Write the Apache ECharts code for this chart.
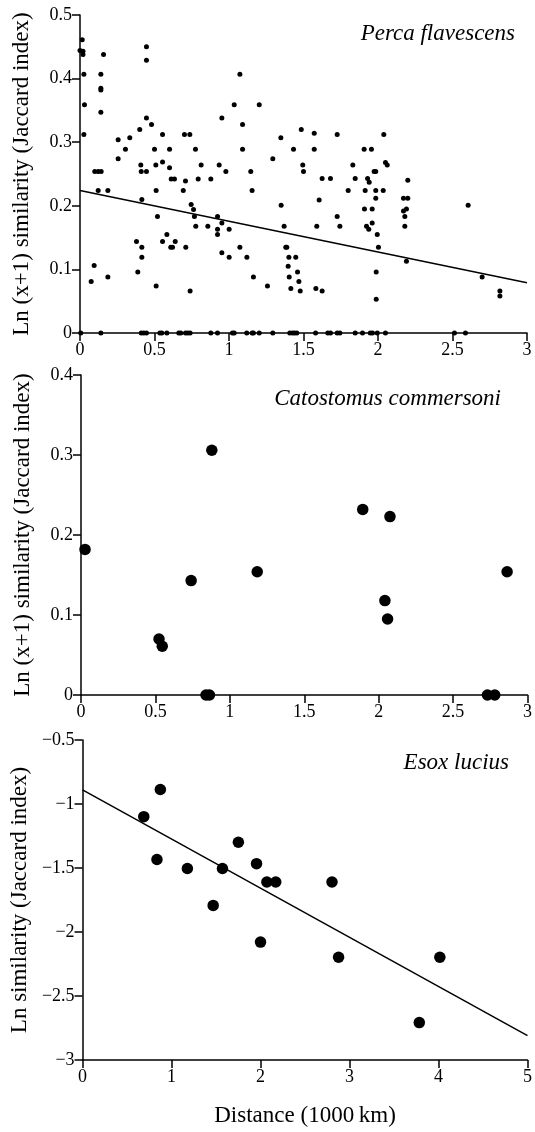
<!DOCTYPE html>
<html>
<head>
<meta charset="utf-8">
<script src="https://cdn.jsdelivr.net/npm/echarts@6/dist/echarts.min.js"></script>
<style>
  html, body { margin: 0; padding: 0; background: #fff; }
  #chart { width: 535px; height: 1132px; }
</style>
</head>
<body>
<div id="chart"></div>
<script>
// Perca flavescens: [distance (1000 km), ln(x+1) Jaccard similarity]
const percaPoints = [
  [0.015, 0.461], [0.0, 0.444], [0.02, 0.443], [0.02, 0.438], [0.158, 0.438],
  [0.026, 0.407], [0.14, 0.407], [0.14, 0.385], [0.14, 0.382], [0.03, 0.359],
  [0.14, 0.347], [0.026, 0.312], [0.446, 0.45], [0.446, 0.429], [0.446, 0.338],
  [0.401, 0.32], [0.48, 0.328], [0.256, 0.304], [0.334, 0.307], [0.554, 0.312],
  [0.701, 0.312], [0.737, 0.312], [0.952, 0.338], [0.305, 0.289], [0.5, 0.289],
  [0.601, 0.289], [0.775, 0.289], [0.256, 0.274], [0.408, 0.264], [0.509, 0.264],
  [0.554, 0.269], [0.601, 0.26], [0.813, 0.264], [0.934, 0.264], [0.099, 0.254],
  [0.122, 0.254], [0.142, 0.254], [0.411, 0.254], [0.446, 0.254], [0.979, 0.254],
  [0.612, 0.242], [0.634, 0.242], [0.708, 0.239], [0.793, 0.242], [0.878, 0.242],
  [0.122, 0.224], [0.187, 0.224], [0.511, 0.224], [0.693, 0.224], [0.415, 0.21],
  [0.746, 0.202], [0.762, 0.194], [0.52, 0.183], [0.768, 0.183], [0.923, 0.183],
  [0.777, 0.168], [0.858, 0.168], [0.923, 0.163], [0.952, 0.173], [1.001, 0.163],
  [0.923, 0.155], [0.583, 0.155], [0.379, 0.144], [0.554, 0.144], [0.639, 0.144],
  [0.415, 0.135], [0.609, 0.135], [0.621, 0.135], [0.71, 0.135], [0.415, 0.119],
  [0.952, 0.126], [1.001, 0.119], [0.095, 0.106], [0.388, 0.096], [0.075, 0.081],
  [0.187, 0.088], [0.511, 0.074], [0.739, 0.066],
  [1.073, 0.407], [1.035, 0.359], [1.203, 0.359], [1.091, 0.328], [1.485, 0.32],
  [1.572, 0.314], [1.726, 0.312], [1.348, 0.307], [1.091, 0.289], [1.433, 0.289],
  [1.572, 0.289], [1.907, 0.289], [1.956, 0.289], [1.294, 0.274], [1.495, 0.264],
  [1.831, 0.264], [1.146, 0.254], [1.5, 0.254], [1.974, 0.254], [1.985, 0.254],
  [1.625, 0.243], [1.681, 0.243], [1.847, 0.243], [1.93, 0.243], [1.941, 0.237],
  [1.155, 0.224], [1.8, 0.224], [1.914, 0.224], [1.985, 0.224], [1.985, 0.212],
  [1.35, 0.201], [1.605, 0.209], [1.909, 0.195], [1.961, 0.195], [1.726, 0.183],
  [1.37, 0.168], [1.589, 0.168], [1.744, 0.168], [1.923, 0.168], [1.938, 0.163],
  [1.961, 0.173], [1.995, 0.155], [1.073, 0.135], [1.12, 0.119], [1.381, 0.135],
  [1.388, 0.135], [1.402, 0.119], [1.448, 0.119], [1.397, 0.105], [1.46, 0.096],
  [1.164, 0.088], [1.404, 0.088], [1.469, 0.081], [1.258, 0.074], [1.415, 0.07],
  [1.478, 0.066], [1.583, 0.07], [1.625, 0.066], [2.003, 0.135], [1.988, 0.096],
  [1.988, 0.053],
  [2.039, 0.312], [2.05, 0.268], [2.062, 0.264], [2.2, 0.24], [2.035, 0.224],
  [2.171, 0.212], [2.2, 0.212], [2.171, 0.192], [2.191, 0.195], [2.18, 0.183],
  [2.18, 0.168], [2.605, 0.201], [2.191, 0.113], [2.699, 0.088], [2.818, 0.066],
  [2.818, 0.058]
]
// Perca pairs with zero similarity (distances only)
const percaZeroDist = [
  0.005, 0.14, 0.411, 0.428, 0.446, 0.536, 0.549, 0.583, 0.663, 0.676, 0.708,
  0.723, 0.739, 0.878, 0.923, 1.023, 1.035, 1.119, 1.155, 1.164, 1.203, 1.294,
  1.408, 1.426, 1.44, 1.455, 1.581, 1.663, 1.681, 1.726, 1.744, 1.847, 1.896,
  1.948, 1.963, 1.995, 2.05, 2.513, 2.587
]
const percaFit = [[0, 0.224], [3, 0.079]]

const catostomusPoints = [
  [0.027, 0.182], [0.524, 0.07], [0.546, 0.061], [0.74, 0.143], [0.879, 0.306],
  [0.84, 0], [0.863, 0], [1.184, 0.154], [1.893, 0.232], [2.076, 0.223],
  [2.042, 0.118], [2.06, 0.095], [2.731, 0], [2.78, 0], [2.863, 0.154]
]

const esoxPoints = [
  [0.688, -1.099], [0.874, -0.887], [0.836, -1.434], [1.178, -1.504], [1.572, -1.504],
  [1.468, -1.792], [1.751, -1.299], [1.955, -1.466], [2.071, -1.609], [2.171, -1.609],
  [2.0, -2.079], [2.803, -1.609], [2.877, -2.197], [4.015, -2.197], [3.784, -2.708]
]
const esoxFit = [[0, -0.89], [5, -2.81]]

const yTitle1 = 'Ln (x+1) similarity (Jaccard index)'
const yTitle3 = 'Ln similarity (Jaccard index)'
const xTitle = 'Distance (1000\u2009km)'

const serif = 'Liberation Serif, Times New Roman, serif'
const ink = '#000'

const axisBase = {
  type: 'value',
  axisLine: { onZero: false, lineStyle: { color: ink, width: 1.5 } },
  axisTick: { length: 8, lineStyle: { color: ink, width: 1.5 } },
  axisLabel: { color: ink, fontFamily: serif, fontSize: 18, margin: 8 },
  splitLine: { show: false },
  nameTextStyle: { color: ink, fontFamily: serif, fontSize: 23 },
}

const dot = { color: ink, opacity: 1 }

const minusFmt = v => (v < 0 ? '\u2212' + Math.abs(v) : String(v))

const chart = echarts.init(document.getElementById('chart'))

chart.setOption({
  backgroundColor: '#fff',
  animation: false,
  title: [
    { text: 'Perca flavescens', right: 20, top: 22 },
    { text: 'Catostomus commersoni', right: 34, top: 387 },
    { text: 'Esox lucius', right: 26, top: 751 },
  ].map(t => ({
    ...t,
    padding: 0,
    textStyle: { color: ink, fontFamily: serif, fontSize: 23, fontStyle: 'italic', fontWeight: 'normal' },
  })),
  grid: [
    { left: 80, top: 15, width: 447, height: 318 },
    { left: 81, top: 375, width: 448, height: 320 },
    { left: 81, top: 740, width: 448, height: 320 },
  ],
  xAxis: [
    { ...axisBase, gridIndex: 0, min: 0, max: 3, interval: 0.5 },
    { ...axisBase, gridIndex: 1, min: 0, max: 3, interval: 0.5 },
    {
      ...axisBase, gridIndex: 2, min: 0, max: 5, interval: 1,
      name: xTitle, nameLocation: 'middle', nameGap: 44,
    },
  ],
  yAxis: [
    {
      ...axisBase, gridIndex: 0, min: 0, max: 0.5, interval: 0.1,
      name: yTitle1, nameLocation: 'middle', nameGap: 47,
    },
    {
      ...axisBase, gridIndex: 1, min: 0, max: 0.4, interval: 0.1,
      name: yTitle1, nameLocation: 'middle', nameGap: 47,
    },
    {
      ...axisBase, gridIndex: 2, min: -3, max: -0.5, interval: 0.5,
      axisLabel: { ...axisBase.axisLabel, formatter: minusFmt },
      name: yTitle3, nameLocation: 'middle', nameGap: 49,
    },
  ],
  series: [
    {
      type: 'scatter', xAxisIndex: 0, yAxisIndex: 0, symbolSize: 5,
      itemStyle: dot, data: percaPoints,
    },
    {
      type: 'scatter', xAxisIndex: 0, yAxisIndex: 0, symbolSize: 5,
      itemStyle: dot, data: percaZeroDist.map(d => [d, 0]),
    },
    {
      type: 'line', xAxisIndex: 0, yAxisIndex: 0, showSymbol: false, silent: true,
      lineStyle: { color: ink, width: 1.5 }, data: percaFit,
    },
    {
      type: 'scatter', xAxisIndex: 1, yAxisIndex: 1, symbolSize: 11.5,
      itemStyle: dot, data: catostomusPoints,
    },
    {
      type: 'scatter', xAxisIndex: 2, yAxisIndex: 2, symbolSize: 11.5,
      itemStyle: dot, data: esoxPoints,
    },
    {
      type: 'line', xAxisIndex: 2, yAxisIndex: 2, showSymbol: false, silent: true,
      lineStyle: { color: ink, width: 1.5 }, data: esoxFit,
    },
  ],
})
</script>
</body>
</html>
